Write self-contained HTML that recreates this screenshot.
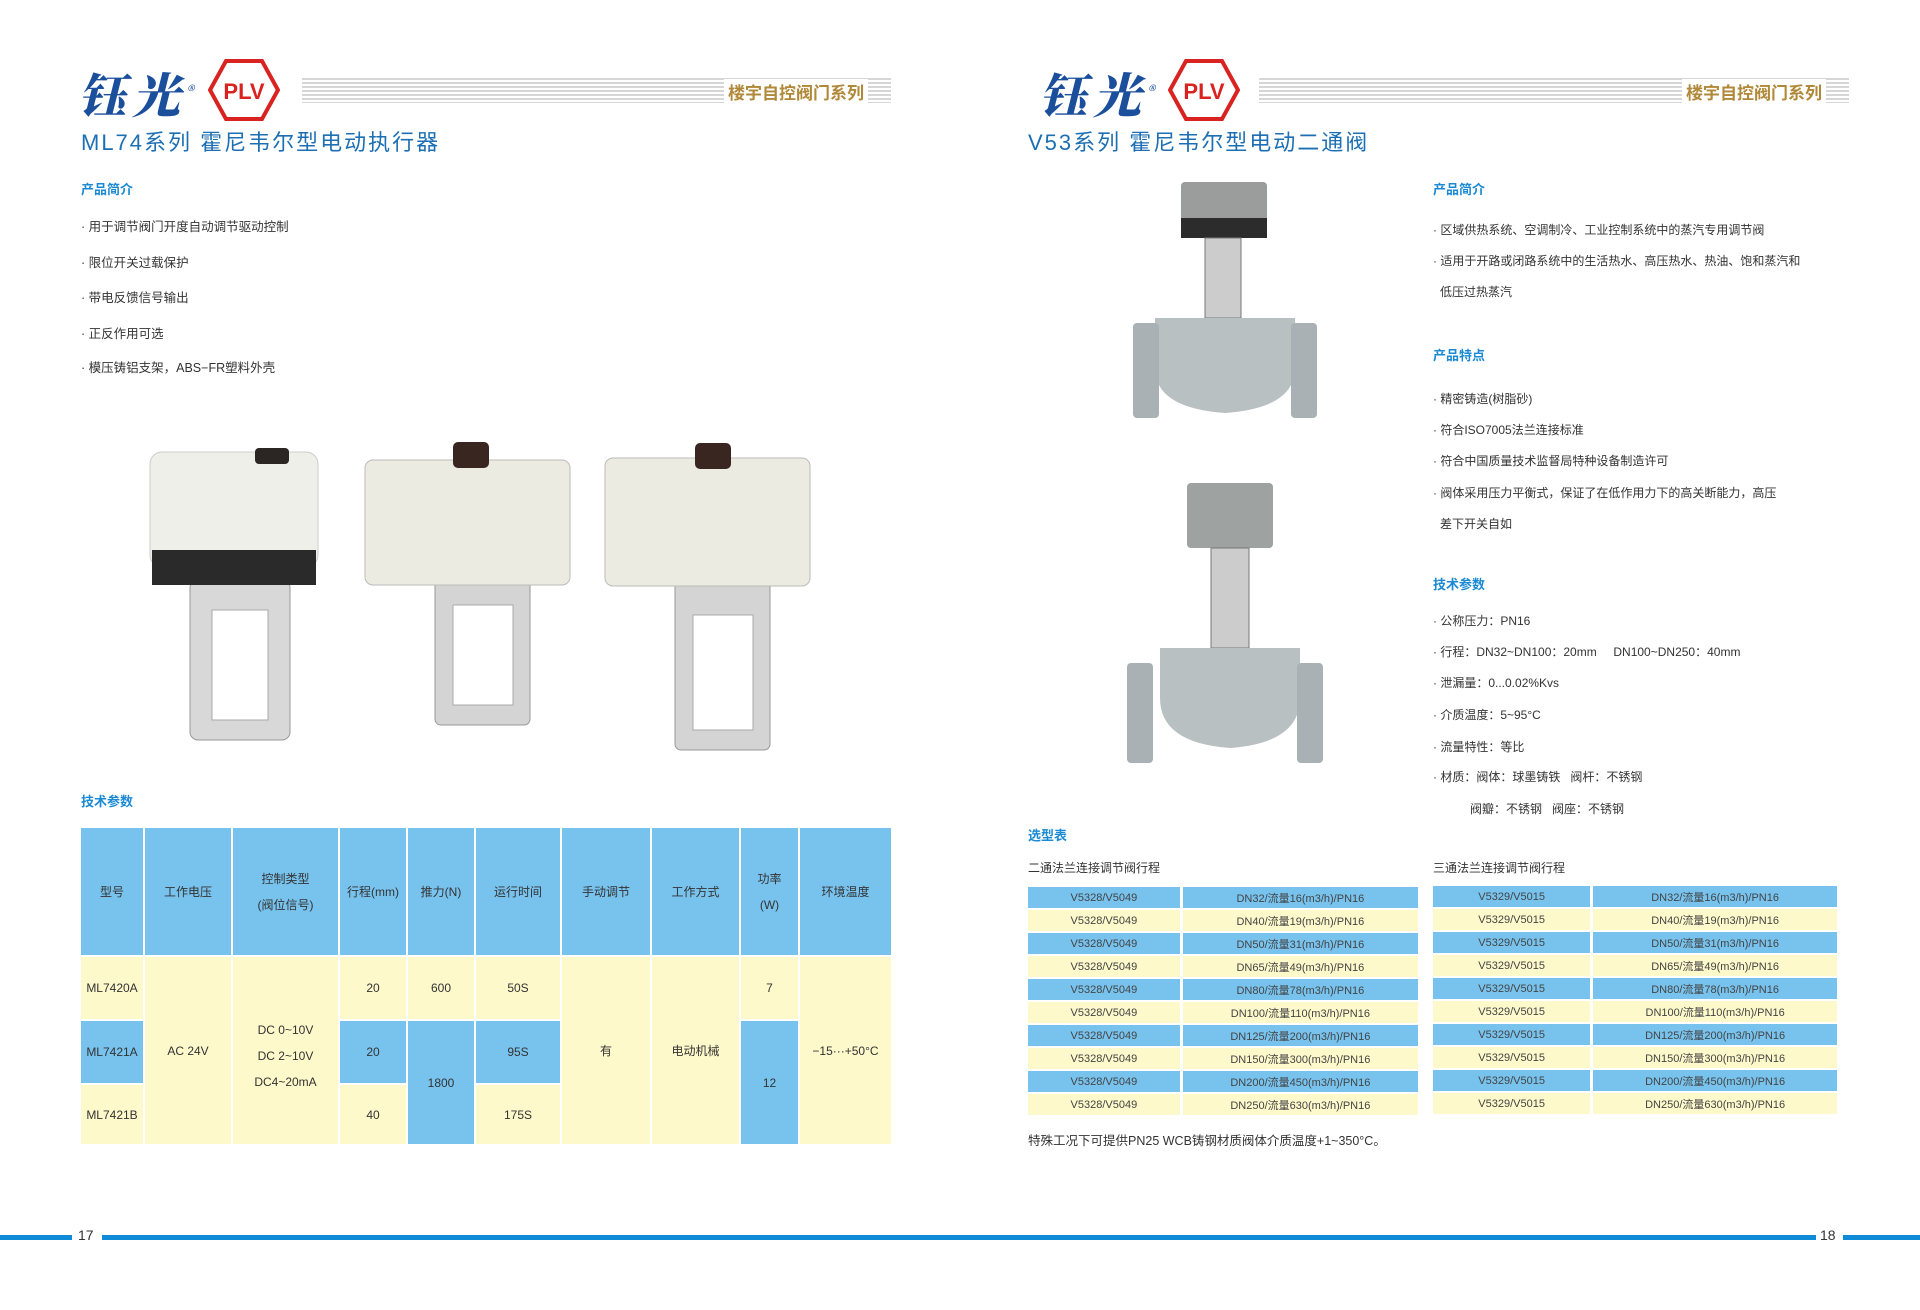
<!DOCTYPE html>
<html><head><meta charset="utf-8">
<style>
*{margin:0;padding:0;box-sizing:border-box}
body{width:1920px;height:1310px;background:#fff;position:relative;overflow:hidden;font-family:"Liberation Sans","Noto Sans CJK SC",sans-serif;color:#333}
.a{position:absolute;white-space:nowrap}
.logo{font-family:"Noto Serif CJK SC","WenQuanYi Zen Hei",serif;font-weight:900;font-style:italic;color:#1b4f9c;font-size:48px;letter-spacing:6px}
.stripes{background:repeating-linear-gradient(#fff 0 2px,#d6d6d6 2px 4px)}
.ser{color:#b08838;font-weight:bold;font-size:17px;background:#fff;padding:0 4px}
.title{color:#1d6fb3;font-size:22px;letter-spacing:2px}
.h{color:#1a8ad4;font-size:13px;font-weight:bold}
.t{font-size:12.5px;color:#333}
.grid{position:absolute;display:grid;gap:2px;background:#fff}
.grid div{display:flex;align-items:center;justify-content:center;text-align:center;font-size:12px;color:#333;line-height:26px}
.b{background:#78c3ee}.y{background:#fdf9cb}
.st{position:absolute;display:grid;grid-template-columns:1fr 1.55fr;gap:3px;row-gap:2px}
.st div{height:21px;font-size:11px;display:flex;align-items:center;justify-content:center;color:#444}
</style></head><body>

<div class="a logo" style="left:78px;top:58px">钰光<sup style="font-size:14px">®</sup></div>
<svg class="a" style="left:208px;top:58px" width="72" height="64"><polygon points="18,3 54,3 70,32 54,61 18,61 2,32" fill="#fff" stroke="#d92320" stroke-width="4"/><text x="36" y="41" font-family="Liberation Sans" font-weight="bold" font-size="22" fill="#d92320" text-anchor="middle">PLV</text></svg>
<div class="a stripes" style="left:302px;top:76px;width:589px;height:27px"></div>
<div class="a ser" style="left:724px;top:79px">楼宇自控阀门系列</div>
<div class="a title" style="left:81px;top:125px">ML74系列 霍尼韦尔型电动执行器</div>
<div class="a h" style="left:81px;top:179px">产品简介</div>
<div class="a t" style="left:81px;top:216px">· 用于调节阀门开度自动调节驱动控制</div>
<div class="a t" style="left:81px;top:252px">· 限位开关过载保护</div>
<div class="a t" style="left:81px;top:287px">· 带电反馈信号输出</div>
<div class="a t" style="left:81px;top:323px">· 正反作用可选</div>
<div class="a t" style="left:81px;top:357px">· 模压铸铝支架，ABS−FR塑料外壳</div>

<svg class="a" style="left:140px;top:440px" width="680" height="320">
 <g>
  <rect x="50" y="140" width="100" height="160" rx="8" fill="#d8d8d8" stroke="#999"/>
  <rect x="72" y="170" width="56" height="110" fill="#fff" stroke="#aaa"/>
  <rect x="10" y="12" width="168" height="115" rx="12" fill="#efefe9" stroke="#ccc"/>
  <rect x="12" y="110" width="164" height="35" fill="#2a2a2a"/>
  <rect x="115" y="8" width="34" height="16" rx="4" fill="#2b2624"/>
 </g>
 <g transform="translate(225,0)">
  <rect x="70" y="135" width="95" height="150" rx="6" fill="#d4d4d4" stroke="#999"/>
  <rect x="88" y="165" width="60" height="100" fill="#fff" stroke="#aaa"/>
  <rect x="0" y="20" width="205" height="125" rx="8" fill="#ecebe2" stroke="#bbb"/>
  <rect x="88" y="2" width="36" height="26" rx="5" fill="#3a2620"/>
 </g>
 <g transform="translate(465,0)"><rect x="70" y="140" width="95" height="170" rx="6" fill="#d4d4d4" stroke="#999"/>
  <rect x="88" y="175" width="60" height="115" fill="#fff" stroke="#aaa"/>
  <rect x="0" y="18" width="205" height="128" rx="8" fill="#ecebe2" stroke="#bbb"/>
  <rect x="90" y="3" width="36" height="26" rx="5" fill="#3a2620"/>
 </g>
</svg>

<div class="a h" style="left:81px;top:791px">技术参数</div>
<div class="grid" style="left:81px;top:828px;grid-template-columns:62px 86px 105px 66px 66px 84px 88px 87px 57px 91px;grid-template-rows:127px 62px 62px 59px">
 <div class="b">型号</div><div class="b">工作电压</div><div class="b">控制类型<br>(阀位信号)</div><div class="b">行程(mm)</div><div class="b">推力(N)</div><div class="b">运行时间</div><div class="b">手动调节</div><div class="b">工作方式</div><div class="b">功率<br>(W)</div><div class="b">环境温度</div>
 <div class="y" style="grid-column:1;grid-row:2">ML7420A</div>
 <div class="b" style="grid-column:1;grid-row:3">ML7421A</div>
 <div class="y" style="grid-column:1;grid-row:4">ML7421B</div>
 <div class="y" style="grid-column:2;grid-row:2/5">AC 24V</div>
 <div class="y" style="grid-column:3;grid-row:2/5;line-height:26px;padding-top:10px">DC 0~10V<br>DC 2~10V<br>DC4~20mA</div>
 <div class="y" style="grid-column:4;grid-row:2">20</div>
 <div class="b" style="grid-column:4;grid-row:3">20</div>
 <div class="y" style="grid-column:4;grid-row:4">40</div>
 <div class="y" style="grid-column:5;grid-row:2">600</div>
 <div class="b" style="grid-column:5;grid-row:3/5">1800</div>
 <div class="y" style="grid-column:6;grid-row:2">50S</div>
 <div class="b" style="grid-column:6;grid-row:3">95S</div>
 <div class="y" style="grid-column:6;grid-row:4">175S</div>
 <div class="y" style="grid-column:7;grid-row:2/5">有</div>
 <div class="y" style="grid-column:8;grid-row:2/5">电动机械</div>
 <div class="y" style="grid-column:9;grid-row:2">7</div>
 <div class="b" style="grid-column:9;grid-row:3/5">12</div>
 <div class="y" style="grid-column:10;grid-row:2/5">−15···+50°C</div>
</div>

<div class="a" style="left:0;top:1235px;width:72px;height:5px;background:#0e8ad6"></div>
<div class="a" style="left:78px;top:1227px;font-size:14px">17</div>
<div class="a" style="left:102px;top:1235px;width:1714px;height:5px;background:#0e8ad6"></div>
<div class="a" style="left:1820px;top:1227px;font-size:14px">18</div>
<div class="a" style="left:1843px;top:1235px;width:77px;height:5px;background:#0e8ad6"></div>

<div class="a logo" style="left:1039px;top:58px">钰光<sup style="font-size:14px">®</sup></div>
<svg class="a" style="left:1168px;top:58px" width="72" height="64"><polygon points="18,3 54,3 70,32 54,61 18,61 2,32" fill="#fff" stroke="#d92320" stroke-width="4"/><text x="36" y="41" font-family="Liberation Sans" font-weight="bold" font-size="22" fill="#d92320" text-anchor="middle">PLV</text></svg>
<div class="a stripes" style="left:1259px;top:76px;width:590px;height:27px"></div>
<div class="a ser" style="left:1682px;top:79px">楼宇自控阀门系列</div>
<div class="a title" style="left:1028px;top:125px">V53系列 霍尼韦尔型电动二通阀</div>

<svg class="a" style="left:1125px;top:178px" width="210" height="600">
 <rect x="56" y="4" width="86" height="56" rx="4" fill="#9a9d9c"/><rect x="56" y="40" width="86" height="20" fill="#2c2c2c"/>
 <rect x="80" y="60" width="36" height="80" fill="#ccc" stroke="#777"/>
 <path d="M30 140 H170 V190 Q170 230 100 235 Q30 230 30 190Z" fill="#b9c0c2"/>
 <rect x="8" y="145" width="26" height="95" rx="4" fill="#aab1b4"/><rect x="166" y="145" width="26" height="95" rx="4" fill="#aab1b4"/>
 <rect x="62" y="305" width="86" height="65" rx="4" fill="#9ea2a1"/>
 <rect x="86" y="370" width="38" height="100" fill="#ccc" stroke="#777"/>
 <path d="M35 470 H175 V520 Q175 565 105 570 Q35 565 35 520Z" fill="#b9c0c2"/>
 <rect x="2" y="485" width="26" height="100" rx="4" fill="#aab1b4"/><rect x="172" y="485" width="26" height="100" rx="4" fill="#aab1b4"/>
</svg>

<div class="a h" style="left:1433px;top:179px">产品简介</div>
<div class="a t" style="left:1433px;top:221px;font-size:12px">· 区域供热系统、空调制冷、工业控制系统中的蒸汽专用调节阀</div>
<div class="a t" style="left:1433px;top:252px;font-size:12px">· 适用于开路或闭路系统中的生活热水、高压热水、热油、饱和蒸汽和</div>
<div class="a t" style="left:1440px;top:283px;font-size:12px">低压过热蒸汽</div>
<div class="a h" style="left:1433px;top:345px">产品特点</div>
<div class="a t" style="left:1433px;top:390px;font-size:12px">· 精密铸造(树脂砂)</div>
<div class="a t" style="left:1433px;top:421px;font-size:12px">· 符合ISO7005法兰连接标准</div>
<div class="a t" style="left:1433px;top:452px;font-size:12px">· 符合中国质量技术监督局特种设备制造许可</div>
<div class="a t" style="left:1433px;top:484px;font-size:12px">· 阀体采用压力平衡式，保证了在低作用力下的高关断能力，高压</div>
<div class="a t" style="left:1440px;top:515px;font-size:12px">差下开关自如</div>
<div class="a h" style="left:1433px;top:574px">技术参数</div>
<div class="a t" style="left:1433px;top:612px;font-size:12px">· 公称压力：PN16</div>
<div class="a t" style="left:1433px;top:643px;font-size:12px">· 行程：DN32~DN100：20mm &nbsp;&nbsp;&nbsp; DN100~DN250：40mm</div>
<div class="a t" style="left:1433px;top:674px;font-size:12px">· 泄漏量：0...0.02%Kvs</div>
<div class="a t" style="left:1433px;top:706px;font-size:12px">· 介质温度：5~95°C</div>
<div class="a t" style="left:1433px;top:738px;font-size:12px">· 流量特性：等比</div>
<div class="a t" style="left:1433px;top:768px;font-size:12px">· 材质：阀体：球墨铸铁 &nbsp; 阀杆：不锈钢</div>
<div class="a t" style="left:1470px;top:800px;font-size:12px">阀瓣：不锈钢 &nbsp; 阀座：不锈钢</div>

<div class="a h" style="left:1028px;top:825px">选型表</div>
<div class="a t" style="left:1028px;top:859px;font-size:12px">二通法兰连接调节阀行程</div>
<div class="a t" style="left:1433px;top:859px;font-size:12px">三通法兰连接调节阀行程</div>

<div class="st" style="left:1028px;top:887px;width:390px">
<div class="b">V5328/V5049</div><div class="b">DN32/流量16(m3/h)/PN16</div>
<div class="y">V5328/V5049</div><div class="y">DN40/流量19(m3/h)/PN16</div>
<div class="b">V5328/V5049</div><div class="b">DN50/流量31(m3/h)/PN16</div>
<div class="y">V5328/V5049</div><div class="y">DN65/流量49(m3/h)/PN16</div>
<div class="b">V5328/V5049</div><div class="b">DN80/流量78(m3/h)/PN16</div>
<div class="y">V5328/V5049</div><div class="y">DN100/流量110(m3/h)/PN16</div>
<div class="b">V5328/V5049</div><div class="b">DN125/流量200(m3/h)/PN16</div>
<div class="y">V5328/V5049</div><div class="y">DN150/流量300(m3/h)/PN16</div>
<div class="b">V5328/V5049</div><div class="b">DN200/流量450(m3/h)/PN16</div>
<div class="y">V5328/V5049</div><div class="y">DN250/流量630(m3/h)/PN16</div>
</div>
<div class="st" style="left:1433px;top:886px;width:404px">
<div class="b">V5329/V5015</div><div class="b">DN32/流量16(m3/h)/PN16</div>
<div class="y">V5329/V5015</div><div class="y">DN40/流量19(m3/h)/PN16</div>
<div class="b">V5329/V5015</div><div class="b">DN50/流量31(m3/h)/PN16</div>
<div class="y">V5329/V5015</div><div class="y">DN65/流量49(m3/h)/PN16</div>
<div class="b">V5329/V5015</div><div class="b">DN80/流量78(m3/h)/PN16</div>
<div class="y">V5329/V5015</div><div class="y">DN100/流量110(m3/h)/PN16</div>
<div class="b">V5329/V5015</div><div class="b">DN125/流量200(m3/h)/PN16</div>
<div class="y">V5329/V5015</div><div class="y">DN150/流量300(m3/h)/PN16</div>
<div class="b">V5329/V5015</div><div class="b">DN200/流量450(m3/h)/PN16</div>
<div class="y">V5329/V5015</div><div class="y">DN250/流量630(m3/h)/PN16</div>
</div>
<div class="a t" style="left:1028px;top:1130px;font-size:12.5px">特殊工况下可提供PN25 WCB铸钢材质阀体介质温度+1~350°C。</div>
</body></html>
